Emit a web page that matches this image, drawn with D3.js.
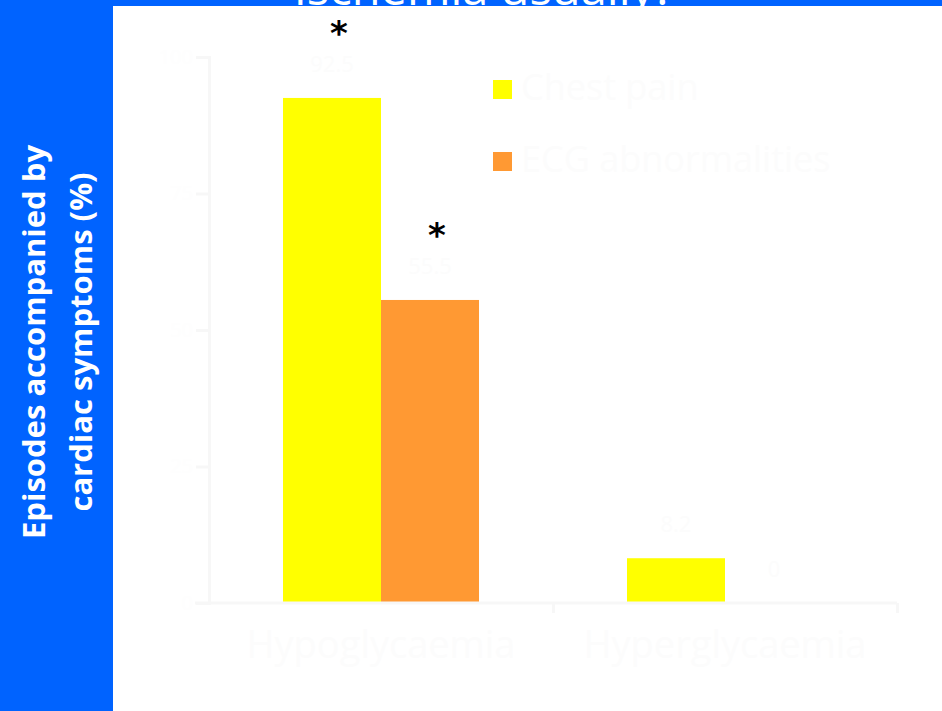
<!DOCTYPE html>
<html><head><meta charset="utf-8">
<script src="https://cdn.jsdelivr.net/npm/d3@7"></script>
<style>body{margin:0;background:#fff;}svg{display:block;}</style>
</head><body>
<script>
const categories = ["Hypoglycaemia", "Hyperglycaemia"];
const seriesNames = ["Chest pain", "ECG abnormalities"];
const chestPain = [92.5, 8.2];
const ecgAbnormalities = [55.5, 0];
const valueLabels = [["92.5", "55.5"], ["8.2", "0"]];
const yTicks = [0, 25, 50, 75, 100];
const significance = [["*", "*"], ["", ""]];

const W = 942, H = 711;
const svg = d3.select("body").append("svg").attr("width", W).attr("height", H);
svg.append("rect").attr("width", W).attr("height", H).attr("fill", "#0063ff");

// cut-off title
svg.append("text").attr("x", 484).attr("y", 5).attr("text-anchor", "middle")
  .attr("font-family", "Open Sans").attr("font-size", 47).attr("fill", "#ffffff")
  .text("Ischemia usually?");

svg.append("rect").attr("x", 113).attr("y", 6).attr("width", W - 113).attr("height", H - 6).attr("fill", "#ffffff");

const m = {left: 209, right: 897, top: 57, bottom: 603};
const x = d3.scaleBand().domain(categories).range([m.left, m.right]).paddingInner(0).paddingOuter(0);
const xs = d3.scaleBand().domain(seriesNames).range([0, x.bandwidth()]).paddingInner(0).paddingOuter(0.755);
const y = d3.scaleLinear().domain([0, 100]).range([m.bottom, m.top]);
const colors = ["#ffff00", "#ff9933"];
const faint = "#f7f7f7";
const faintText = "#fcfcfc";

const data = categories.map((c, i) => ({cat: c, vals: [chestPain[i], ecgAbnormalities[i]]}));

const g = svg.append("g");
const groups = g.selectAll("g.cat").data(data).join("g").attr("transform", d => `translate(${x(d.cat)},0)`);
groups.selectAll("rect").data(d => d.vals.map((v, j) => ({v, j})))
  .join("rect")
  .attr("x", d => xs(seriesNames[d.j])).attr("width", xs.bandwidth())
  .attr("y", d => y(d.v)).attr("height", d => y(0) - y(d.v))
  .attr("fill", d => colors[d.j]);

// value labels (faint) and significance marks
groups.each(function(d, i) {
  const gg = d3.select(this);
  d.vals.forEach((v, j) => {
    const cx = xs(seriesNames[j]) + xs.bandwidth() / 2;
    gg.append("text").attr("x", cx).attr("y", y(v) - 26).attr("text-anchor", "middle")
      .attr("font-family", "Open Sans").attr("font-size", 22).attr("fill", faintText)
      .text(valueLabels[i][j]);
    if (significance[i][j]) {
      gg.append("text").attr("x", cx + 7).attr("y", y(v) - 53).attr("text-anchor", "middle")
        .attr("font-family", "DejaVu Sans").attr("font-weight", "bold").attr("font-size", 34).attr("fill", "#000")
        .text(significance[i][j]);
    }
  });
});

// axes
const yAxis = svg.append("g").attr("transform", `translate(${m.left},0)`)
  .call(d3.axisLeft(y).tickValues(yTicks).tickSize(13).tickFormat(d => d));
yAxis.selectAll("path, line").attr("stroke", faint).attr("stroke-width", 3);
yAxis.selectAll("text").attr("fill", "#fefefe").attr("font-size", 20).attr("font-family", "Open Sans");

const xAxis = svg.append("g").attr("transform", `translate(0,${m.bottom})`)
  .call(d3.axisBottom(d3.scaleLinear().domain([0, 2]).range([m.left, m.right])).tickValues([0, 1, 2]).tickSize(10).tickFormat(""));
xAxis.select("path").attr("stroke", faint).attr("stroke-width", 3).attr("d", `M${m.left - 14},0H${m.right}`);
xAxis.selectAll("line").attr("stroke", faint).attr("stroke-width", 3);
xAxis.selectAll(".tick").filter(d => d === 0).remove();

svg.append("g").selectAll("text").data(categories).join("text")
  .attr("x", d => x(d) + x.bandwidth() / 2).attr("y", 658).attr("text-anchor", "middle")
  .attr("font-family", "Open Sans").attr("font-size", 38).attr("fill", faintText).text(d => d);

// legend
const leg = svg.append("g").selectAll("g").data(seriesNames).join("g")
  .attr("transform", (d, i) => `translate(493,${80 + i * 72})`);
leg.append("rect").attr("width", 19).attr("height", 19).attr("fill", (d, i) => colors[i]);
leg.append("text").attr("x", 28).attr("y", 20).attr("font-family", "Open Sans").attr("font-size", 36)
  .attr("fill", faintText).text(d => d);

// y title
const yt = svg.append("text").attr("transform", "translate(45,342) rotate(-90)")
  .attr("text-anchor", "middle").attr("font-family", "Open Sans").attr("font-weight", "bold")
  .attr("font-size", 31).attr("fill", "#ffffff");
yt.append("tspan").attr("x", 0).attr("dy", 0).text("Episodes accompanied by");
yt.append("tspan").attr("x", 0).attr("dy", 47).text("cardiac symptoms (%)");
</script>
</body></html>
